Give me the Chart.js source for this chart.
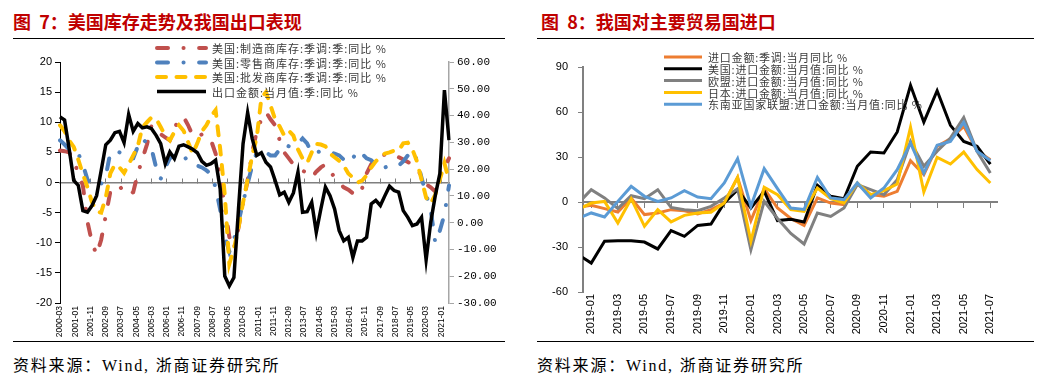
<!DOCTYPE html>
<html>
<head>
<meta charset="utf-8">
<script src="https://cdn.jsdelivr.net/npm/chart.js@4.4.1/dist/chart.umd.min.js"></script>
<style>
  body { margin: 0; background: #fff; width: 1058px; height: 385px; position: relative; overflow: hidden; font-family: "Noto Sans CJK SC", sans-serif; }
  .title { position: absolute; top: 9px; font-size: 18px; line-height: 24px; font-weight: bold; color: #c00000; white-space: nowrap; }
  .rule { position: absolute; height: 0; border-top: 1.5px solid #000; }
  .src { position: absolute; top: 355px; font-size: 16px; line-height: 22px; letter-spacing: 1.8px; font-family: "Liberation Serif", "Noto Sans CJK SC", serif; color: #000; white-space: nowrap; }
  canvas { position: absolute; top: 40px; }
</style>
</head>
<body>
<div class="title" style="left:13px">图&nbsp;&nbsp;7：美国库存走势及我国出口表现</div>
<div class="rule" style="left:13px; top:38px; width:492px"></div>
<div class="title" style="left:541px">图&nbsp;&nbsp;8：我国对主要贸易国进口</div>
<div class="rule" style="left:537px; top:38px; width:497px"></div>

<canvas id="left" width="520" height="300" style="left:0"></canvas>
<canvas id="right" width="520" height="300" style="left:530px"></canvas>

<div class="rule" style="left:13px; top:341px; width:492px"></div>
<div class="rule" style="left:537px; top:341px; width:497px"></div>
<div class="src" style="left:13px">资料来源：Wind, 浙商证券研究所</div>
<div class="src" style="left:537px">资料来源：Wind, 浙商证券研究所</div>

<script>
// ---- figure 7: monthly axis 2000-03 .. 2021-06, quarterly values ----
const months = [];
for (let y = 2000, m = 3; y < 2021 || m <= 6; ) {
  months.push(y + '-' + String(m).padStart(2, '0'));
  if (++m > 12) { m = 1; y++; }
}

// 美国:制造商库存:季调:季:同比 %  (quarter ends 2000-03 .. 2021-06)
const mfgInv = [
  5.3, 5.2, 5.0, 3.5, 1.6, -0.5, -6.5, -10.0, -12.0, -9.5,
  -5.5, -1.5, -0.8, -0.5, -1.8, -2.0, -1.6, 1.5, 3.9, 6.3,
  9.5, 9.0, 8.0, 7.5, 7.0, 9.0, 10.5, 10.9, 9.5, 7.8,
  7.5, 8.0, 7.8, 7.0, 4.8, 1.0, -4.0, -9.0, -11.0, -7.5,
  -3.3, 0.3, 5.0, 8.5, 10.5, 11.7, 10.5, 9.5, 7.0, 5.0,
  4.0, 3.0, 2.5, 2.0, 1.5, 0.8, 1.8, 2.5, 3.0, 2.0,
  0.8, 0.0, -0.8, -1.2, -1.8, -2.2, -1.0, 1.5, 3.0, 4.0,
  4.5, 4.6, 4.8, 4.5, 4.2, 3.8, 3.4, 3.0, 2.0, 1.3,
  -0.3, -0.8, -1.5, 1.0, 2.5, 4.0
];
// 美国:零售商库存:季调:季:同比 %
const retailInv = [
  7.0, 6.3, 5.5, 4.8, 4.8, 3.0, 0.5, -0.5, -0.5, -0.2,
  1.0, 5.0, 5.2, 5.0, 4.5, 3.8, 4.0, 6.0, 7.3, 6.5,
  5.6, 2.5, 0.6, 2.5, 4.0, 4.5, 4.0, 4.5, 3.4, 3.0,
  2.8, 2.5, 2.0, 1.4, -0.8, -4.5, -9.0, -11.5, -9.5, -6.5,
  -3.3, -0.2, 2.8, 5.0, 5.0, 5.0, 4.5, 4.5, 5.5, 6.4,
  6.0, 6.0, 6.5, 7.3, 6.5, 4.8, 5.0, 5.2, 5.3, 5.0,
  4.8, 4.5, 3.8, 3.2, 4.0, 5.3, 4.8, 4.0, 3.7, 3.0,
  2.3, 2.5, 2.8, 2.8, 2.8, 3.5, 4.5, 5.3, 3.7, 0.8,
  -2.0, -4.5, -10.0, -8.0, -5.3, -0.5
];
// 美国:批发商库存:季调:季:同比 %
const wholesaleInv = [
  9.5, 8.5, 7.0, 5.9, 3.8, 1.4, -0.8, -3.3, -4.8, -5.0,
  -2.5, 1.5, 3.0, 2.5, 1.6, 3.0, 4.5, 6.0, 9.2, 10.0,
  10.8, 10.6, 9.2, 7.8, 7.0, 8.4, 9.5, 8.6, 6.7, 4.8,
  6.5, 8.5, 9.5, 11.0, 12.0, 5.6, -2.0, -13.5, -11.0, -7.5,
  -3.3, 0.5, 4.5, 7.5, 14.0, 15.0, 12.8, 10.5, 9.3, 7.8,
  8.6, 7.8, 5.5, 4.0, 3.2, 5.0, 6.4, 6.3, 6.0, 4.8,
  4.2, 3.6, 2.8, 1.5, 0.8, 0.0, 0.3, 1.2, 2.5, 3.5,
  4.3, 4.8, 5.0, 5.3, 5.3, 6.5, 6.6, 5.5, 3.5, 0.5,
  -2.5, -3.5, -2.0, 0.5, 3.2, 0.3
];
// 出口金额:当月值:季:同比 %  (right axis)
const exportYoy = [
  39.5, 38.3, 27.6, 15.8, 13.9, 4.5, 3.9, 6.4, 10.1, 19.5,
  29.1, 30.8, 33.6, 34.1, 29.9, 40.4, 34.1, 37.0, 35.4, 35.8,
  35.1, 32.6, 29.5, 22.0, 26.4, 23.9, 28.6, 29.1, 28.3, 27.4,
  26.1, 22.9, 21.4, 22.0, 23.3, 12.6, -19.9, -23.6, -20.5, 5.1,
  29.5, 41.1, 31.4, 25.1, 26.1, 22.6, 20.8, 15.8, 10.4, 11.4,
  7.6, 11.1, 18.9, 3.9, 4.1, 7.6, -3.6, 5.1, 13.3, 10.1,
  5.1, -3.0, -6.8, -5.5, -13.0, -6.8, -6.8, -5.5, 7.0, 8.3,
  6.4, 10.1, 13.6, 12.0, 11.4, 4.5, 2.0, -1.1, -0.5, 2.0,
  -13.9, 0.1, 10.1, 18.3, 49.5, 30.8
];

// ---- figure 8: monthly 2018-12 .. 2021-07 ----
const months2 = [
  '2018-12',
  '2019-01', '2019-02', '2019-03', '2019-04', '2019-05', '2019-06', '2019-07', '2019-08', '2019-09', '2019-10', '2019-11', '2019-12',
  '2020-01', '2020-02', '2020-03', '2020-04', '2020-05', '2020-06', '2020-07', '2020-08', '2020-09', '2020-10', '2020-11', '2020-12',
  '2021-01', '2021-02', '2021-03', '2021-04', '2021-05', '2021-06', '2021-07'
];
const totalImp = [-3.6, -2.2, -4.4, -6.7, 2.7, -8.4, -7.3, -5.1, -5.8, -8.0, -5.1, -0.7, 16.4, -12.4, 8.9, -4.0, -11.0,
  -15.6, 2.7, -0.7, -1.8, 12.0, 4.9, 3.8, 7.1, 27.6, 18.2, 37.1, 42.2, 50.4, 34.2, 28.2];
const usImp = [-35.0, -40.7, -26.2, -25.8, -25.8, -26.7, -31.3, -19.1, -22.9, -15.6, -14.7, -0.7, 8.2, -4.0, 7.1, -12.4, -11.5,
  -13.3, 11.1, 3.8, 2.2, 23.8, 33.3, 32.7, 46.7, 77.8, 53.3, 74.2, 51.1, 40.4, 37.1, 25.3];
const euImp = [-1.0, 8.2, 2.7, -4.4, 4.2, 2.2, 8.2, -3.6, -5.1, -5.8, -2.9, 2.7, 8.9, -31.8, 0.4, -11.0, -21.0,
  -28.0, -7.3, -9.6, -4.0, 11.6, 8.2, 4.9, 14.9, 40.4, 23.8, 33.8, 42.7, 56.4, 33.8, 19.3];
const jpImp = [-5.1, -0.7, 0.4, -14.0, 2.2, -16.2, -5.1, -13.3, -8.9, -7.3, -6.9, -0.7, 16.4, -26.2, 9.8, 4.9, -5.0,
  -6.2, 9.3, 2.2, -0.7, 12.7, 4.9, 7.6, 12.0, 49.8, 6.7, 29.8, 25.3, 33.3, 21.6, 12.7];
const aseanImp = [-11.0, -7.3, -10.0, 0.4, 10.4, 3.8, 0.4, 2.7, 7.6, 3.3, 2.2, 12.7, 28.9, -2.9, 22.2, 8.9, -4.0,
  -5.0, 16.4, 2.7, 1.6, 12.7, 2.7, 9.3, 21.6, 39.3, 19.3, 37.8, 40.4, 53.1, 33.8, 27.6];

const lineLegend = {
  id: 'lineLegend',
  afterDatasetsDraw(chart, args, opts) {
    const ctx = chart.ctx;
    ctx.save();
    chart.data.datasets.forEach((ds, i) => {
      const y = opts.y + i * opts.rowH;
      ctx.beginPath();
      ctx.setLineDash(ds.borderDash || []);
      ctx.lineCap = ds.borderCapStyle || 'butt';
      ctx.lineWidth = ds.borderWidth;
      ctx.strokeStyle = ds.borderColor;
      ctx.moveTo(opts.x, y);
      ctx.lineTo(opts.x + opts.len, y);
      ctx.stroke();
      ctx.setLineDash([]);
      ctx.fillStyle = '#3a3a3a';
      ctx.font = opts.font;
      ctx.letterSpacing = opts.spacing;
      ctx.textBaseline = 'middle';
      ctx.fillText(ds.label, opts.x + opts.len + 6, y + 1);
    });
    ctx.restore();
  }
};

const tickFont = { family: 'Liberation Sans', size: 11 };
const dashDot = [11, 15.5, 0.1, 15.5];
const quarterly = arr => arr.map((v, q) => ({ x: months[q * 3], y: v }));

new Chart(document.getElementById('left'), {
  type: 'line',
  data: {
    labels: months,
    datasets: [
      { label: '美国:制造商库存:季调:季:同比 %', data: quarterly(mfgInv), borderColor: '#c0504d', borderWidth: 4, borderDash: dashDot, borderCapStyle: 'round', yAxisID: 'y', order: 0 },
      { label: '美国:零售商库存:季调:季:同比 %', data: quarterly(retailInv), borderColor: '#4f81bd', borderWidth: 4, borderDash: dashDot, borderCapStyle: 'round', yAxisID: 'y', order: -1 },
      { label: '美国:批发商库存:季调:季:同比 %', data: quarterly(wholesaleInv), borderColor: '#ffc000', borderWidth: 4, borderDash: [9, 10.5], borderCapStyle: 'round', yAxisID: 'y', order: -2 },
      { label: '出口金额:当月值:季:同比 %', data: quarterly(exportYoy), borderColor: '#000000', borderWidth: 3.5, yAxisID: 'y1', order: -3 }
    ]
  },
  plugins: [lineLegend],
  options: {
    responsive: false,
    animation: false,
    elements: { point: { radius: 0 }, line: { tension: 0 } },
    layout: { padding: { top: 22, left: 0, right: 0, bottom: 0 } },
    plugins: {
      legend: { display: false },
      tooltip: { enabled: false },
      lineLegend: { x: 157, y: 8, rowH: 14.5, len: 49, font: '11px "Noto Sans CJK SC"', spacing: '1px' }
    },
    scales: {
      x: {
        type: 'category',
        grid: { display: false, drawTicks: false },
        border: { display: false },
        ticks: {
          autoSkip: false, maxRotation: 90, minRotation: 90, padding: 3, color: '#000',
          font: { family: 'Liberation Sans', size: 8.5 },
          callback: (v, i) => (i % 10 === 0 ? months[i] : null)
        },
        afterFit: s => { s.height = 37; }
      },
      x0: {
        type: 'category', axis: 'x', position: { y: 0 },
        grid: { drawOnChartArea: false, tickLength: -5, color: '#7f7f7f' },
        border: { color: '#7f7f7f', width: 1.5 },
        ticks: { autoSkip: false, maxRotation: 0, font: { size: 6 }, callback: (v, i) => (i % 10 === 0 ? '' : null) }
      },
      y: {
        position: 'left', min: -20, max: 20,
        ticks: { stepSize: 5, color: '#000', font: tickFont, padding: 3 },
        grid: { drawOnChartArea: false, tickLength: 5, color: '#000' },
        border: { color: '#000', width: 1 },
        afterFit: s => { s.width = 60; }
      },
      y1: {
        position: 'right', min: -30, max: 60,
        ticks: { stepSize: 10, color: '#000', font: { family: 'Liberation Mono', size: 11 }, padding: 3, callback: v => v.toFixed(2) },
        grid: { drawOnChartArea: false, tickLength: 5, color: '#a6a6a6' },
        border: { color: '#a6a6a6', width: 1.5 },
        afterFit: s => { s.width = 71; }
      }
    }
  }
});

const monthly = arr => arr.map((v, j) => ({ x: j, y: v }));
const labelTicks = s => { s.ticks = months2.map((l, j) => ({ value: j })).filter(t => t.value % 2 === 1); };

new Chart(document.getElementById('right'), {
  type: 'line',
  data: {
    datasets: [
      { label: '进口金额:季调:当月同比 %', data: monthly(totalImp), borderColor: '#ed7d31', borderWidth: 3, clip: 0, order: 0 },
      { label: '美国:进口金额:当月值:同比 %', data: monthly(usImp), borderColor: '#000000', borderWidth: 3, clip: 0, order: -1 },
      { label: '欧盟:进口金额:当月值:同比 %', data: monthly(euImp), borderColor: '#808080', borderWidth: 3, clip: 0, order: -2 },
      { label: '日本:进口金额:当月值:同比 %', data: monthly(jpImp), borderColor: '#ffc000', borderWidth: 3, clip: 0, order: -3 },
      { label: '东南亚国家联盟:进口金额:当月值:同比 %', data: monthly(aseanImp), borderColor: '#5b9bd5', borderWidth: 3, clip: 0, order: -4 }
    ]
  },
  plugins: [lineLegend],
  options: {
    responsive: false,
    animation: false,
    elements: { point: { radius: 0 }, line: { tension: 0 } },
    layout: { padding: { top: 27, left: 0, right: 53, bottom: 0 } },
    plugins: {
      legend: { display: false },
      tooltip: { enabled: false },
      lineLegend: { x: 134, y: 17, rowH: 11.8, len: 38, font: '11px "Noto Sans CJK SC"', spacing: '0.8px' }
    },
    scales: {
      x: {
        type: 'linear', min: 0.38, max: 31.5,
        afterBuildTicks: labelTicks,
        grid: { display: false, drawTicks: false },
        border: { display: false },
        ticks: { autoSkip: false, maxRotation: 90, minRotation: 90, padding: 2, color: '#000', font: tickFont, callback: v => months2[v] },
        afterFit: s => { s.height = 48; }
      },
      x0: {
        type: 'linear', axis: 'x', position: { y: 0 }, min: 0.38, max: 31.5,
        afterBuildTicks: labelTicks,
        grid: { drawOnChartArea: false, tickLength: 5, color: '#808080' },
        border: { color: '#808080', width: 2 },
        ticks: { autoSkip: false, maxRotation: 0, font: { size: 6 }, callback: () => '' }
      },
      y: {
        position: 'left', min: -60, max: 90,
        ticks: { stepSize: 30, color: '#000', font: tickFont, padding: 10 },
        grid: { drawOnChartArea: false, tickLength: 5, color: '#808080' },
        border: { color: '#808080', width: 2 },
        afterFit: s => { s.width = 53; }
      }
    }
  }
});
</script>
</body>
</html>
